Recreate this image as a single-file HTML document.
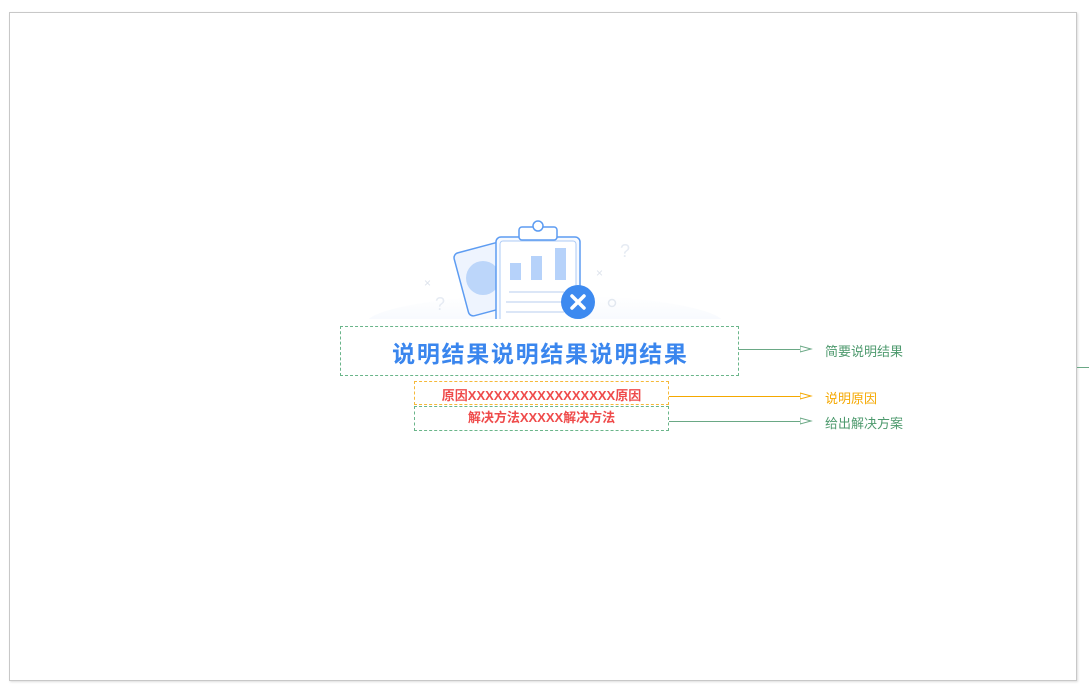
<!DOCTYPE html>
<html><head><meta charset="utf-8"><style>
body{margin:0;width:1089px;height:692px;background:#fff;position:relative;overflow:hidden;font-family:"Liberation Sans","Noto Sans CJK SC",sans-serif}
.a{position:absolute}
.frame{left:9px;top:12px;width:1066px;height:667px;border:1px solid #c8c8c8;box-shadow:1px 1px 2px #ddd}
.box{position:absolute;box-sizing:border-box;border:1px dashed #6ab58a}
.t{position:absolute;white-space:nowrap;font-weight:bold}
.l{position:absolute;height:1px}
</style></head><body>
<div class="a frame"></div>
<div class="l" style="left:1077px;top:367px;width:12px;background:#6aa885"></div>
<svg class="a" style="left:360px;top:213px" width="370" height="106" viewBox="0 0 370 106">
<defs><linearGradient id="g" x1="0" y1="0" x2="0" y2="1"><stop offset="0" stop-color="#fff"/><stop offset="1" stop-color="#edf3fc"/></linearGradient></defs>
<ellipse cx="185" cy="112" rx="180" ry="30" fill="url(#g)"/>
<g transform="rotate(-15 120 65)"><rect x="100" y="35" width="50" height="65" rx="5" fill="#eef4fe" stroke="#5d9cf2" stroke-width="1.5"/></g>
<circle cx="123" cy="65" r="17" fill="#bcd6fa"/>
<rect x="136" y="24" width="84" height="90" rx="5" fill="#f7faff" stroke="#5d9cf2" stroke-width="1.5"/>
<rect x="140" y="28" width="76" height="86" rx="3" fill="#fff" stroke="#aecbf5"/>
<rect x="159" y="14" width="38" height="13" rx="3" fill="#fff" stroke="#5d9cf2" stroke-width="1.5"/>
<circle cx="178" cy="13" r="5" fill="#fff" stroke="#5d9cf2" stroke-width="1.5"/>
<rect x="158" y="14" width="40" height="2" fill="none"/>
<rect x="150" y="50" width="11" height="17" fill="#b6d2fa"/>
<rect x="171" y="43" width="11" height="24" fill="#b6d2fa"/>
<rect x="195" y="35" width="11" height="32" fill="#b6d2fa"/>
<line x1="149" y1="79" x2="204" y2="79" stroke="#dbe6f7" stroke-width="2"/>
<line x1="146" y1="89" x2="204" y2="89" stroke="#dbe6f7" stroke-width="2"/>
<line x1="146" y1="99" x2="204" y2="99" stroke="#dbe6f7" stroke-width="2"/>
<circle cx="218" cy="89" r="17" fill="#3d8af0"/>
<path d="M212 83l12 12M224 83l-12 12" stroke="#fff" stroke-width="3.5" stroke-linecap="round"/>
<text x="260" y="44" font-size="18" fill="#e6ebf3" font-family="Liberation Sans">?</text>
<text x="75" y="97" font-size="18" fill="#e6ebf3" font-family="Liberation Sans">?</text>
<text x="236" y="64" font-size="12" fill="#dde3ec">×</text>
<text x="64" y="74" font-size="12" fill="#dde3ec">×</text>
<circle cx="252" cy="90" r="3.5" fill="none" stroke="#e2e8f0" stroke-width="1.5"/>
</svg>
<div class="box" style="left:340px;top:326px;width:399px;height:50px"></div>
<div class="t" style="left:340px;top:335px;width:399px;text-align:center;font-size:23px;color:#3a86ee;letter-spacing:1.7px;text-indent:1.7px">说明结果说明结果说明结果</div>
<div class="box" style="left:414px;top:381px;width:255px;height:24px;border-color:#f5b93a"></div>
<div class="t" style="left:414px;top:385px;width:255px;text-align:center;font-size:13px;color:#ef4b4b">原因XXXXXXXXXXXXXXXXX原因</div>
<div class="box" style="left:414px;top:406px;width:255px;height:25px"></div>
<div class="t" style="left:414px;top:407px;width:255px;text-align:center;font-size:13px;color:#ef4b4b">解决方法XXXXX解决方法</div>
<div class="l" style="left:739px;top:349px;width:70px;background:#6aa885"></div>
<div class="l" style="left:669px;top:396px;width:140px;background:#f5a800"></div>
<div class="l" style="left:669px;top:421px;width:140px;background:#6aa885"></div>
<svg class="a" style="left:800px;top:344px" width="14" height="84">
<path d="M0 2l11 3l-11 3z" fill="#fff" stroke="#6aa885"/>
<path d="M0 49l11 3l-11 3z" fill="#fff" stroke="#f5a800"/>
<path d="M0 74l11 3l-11 3z" fill="#fff" stroke="#6aa885"/>
</svg>
<div class="t" style="left:825px;top:341px;font-size:13px;font-weight:normal;color:#4e9a6e">简要说明结果</div>
<div class="t" style="left:825px;top:388px;font-size:13px;font-weight:normal;color:#f5a800">说明原因</div>
<div class="t" style="left:825px;top:413px;font-size:13px;font-weight:normal;color:#4e9a6e">给出解决方案</div>
</body></html>
